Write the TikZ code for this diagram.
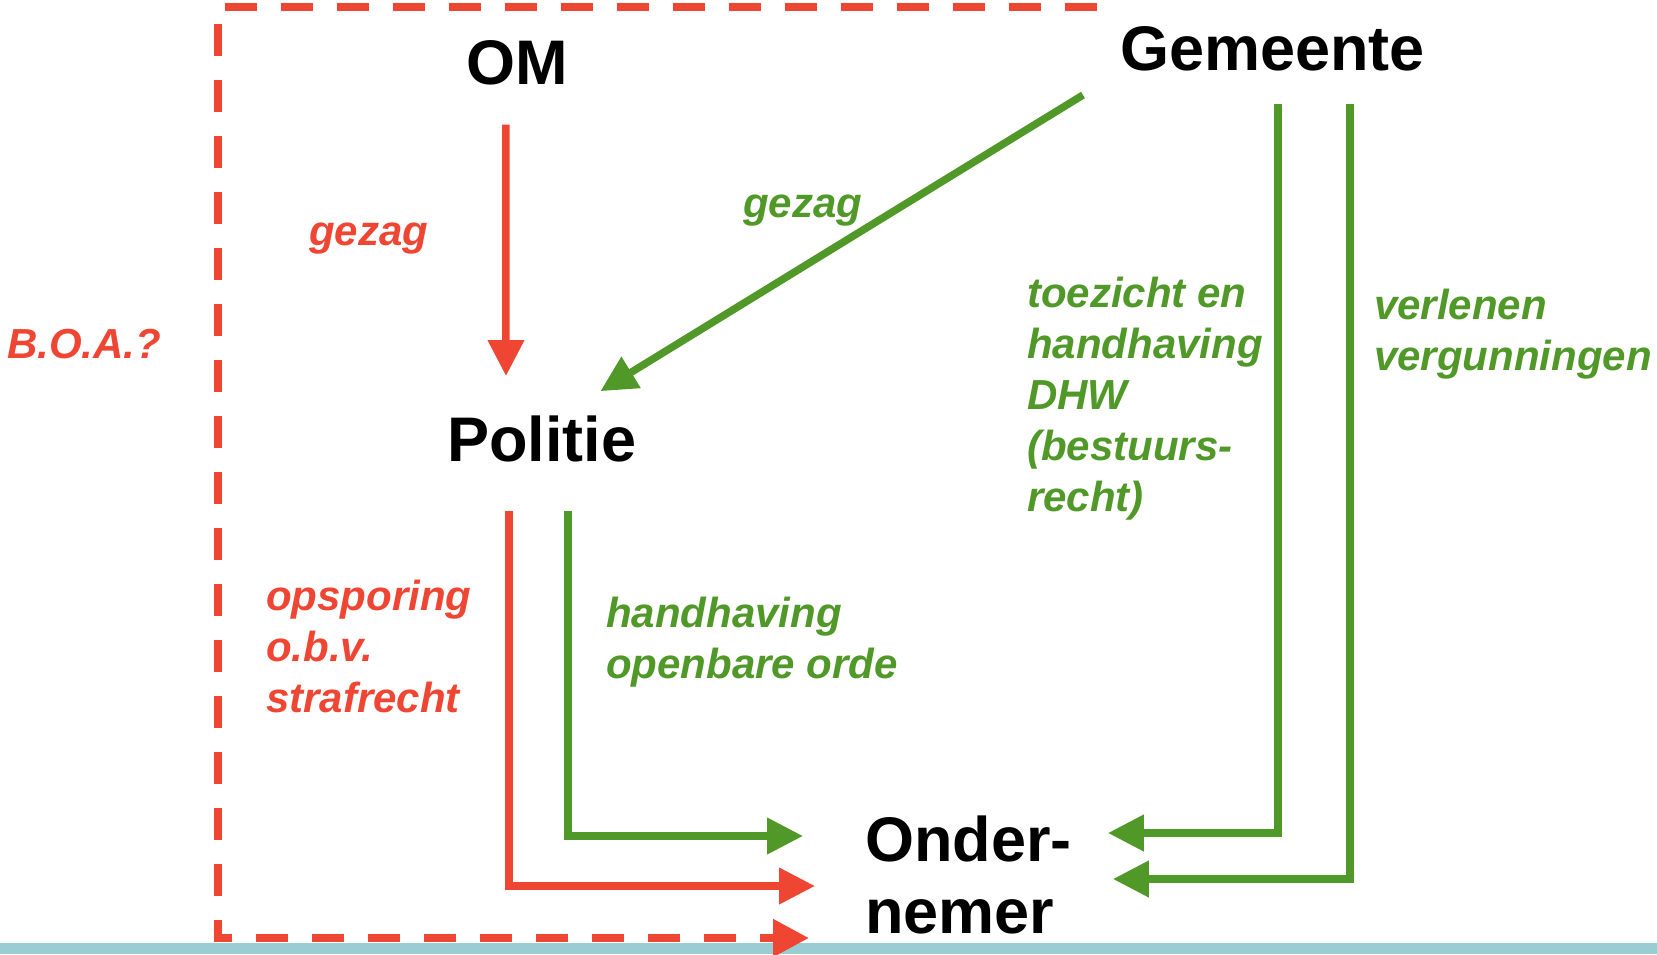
\documentclass[tikz,border=0pt]{standalone}
\usepackage{fontspec}
\setmainfont{Liberation Sans}
\usetikzlibrary{arrows.meta}
\usetikzlibrary{positioning}

\definecolor{omred}{RGB}{239,69,51}
\definecolor{gemgreen}{RGB}{80,152,40}
\definecolor{barblue}{RGB}{154,204,211}

\begin{document}
\begin{tikzpicture}
        [x=1pt, y=-1pt,
         actor/.style={inner sep=0pt, anchor=base west, font=\fontsize{63}{72}\selectfont\bfseries},
         tag/.style={inner sep=0pt, anchor=base west, align=left, font=\fontsize{42}{51}\selectfont\bfseries\itshape},
         redline/.style={omred, line width=7.5pt, -{Triangle[length=36pt, width=35pt]}},
         greenline/.style={gemgreen, line width=7.5pt, -{Triangle[length=36pt, width=35pt]}}]
        \useasboundingbox (0,0) rectangle (1657,954);
        \fill [barblue] (0,943) rectangle (1657,954);

        % actors
        \node [actor] (om) at (466,84.5) {OM};
        \node [actor] (gemeente) at (1120,70) {Gemeente};
        \node [actor] (politie) at (447,461) {Politie};
        \node [actor, align=left] (ondernemer) at (865,933) {Onder-\\nemer};

        % labels (base = last line)
        \node [tag, omred] (gezagom) at (309,245) {gezag};
        \node [tag, gemgreen] (gezaggem) at (743,217) {gezag};
        \node [tag, omred] (boa) at (7,358) {B.O.A.?};
        \node [tag, gemgreen] (toezicht) at (1027,511) {toezicht en\\handhaving\\DHW\\(bestuurs-\\recht)};
        \node [tag, gemgreen] (vergunning) at (1374,370) {verlenen\\vergunningen};
        \node [tag, omred] (opsporing) at (266,712) {opsporing\\o.b.v.\\strafrecht};
        \node [tag, gemgreen] (openbareorde) at (606,678) {handhaving\\openbare orde};

        % B.O.A. box
        \coordinate (boatip) at (809,938);
        \draw [omred, line width=8pt, dash pattern=on 32pt off 24pt, -{Triangle[length=36pt, width=36pt]}]
            (1097,7) -- (218,7) -- (218,938) -- (boatip);

        \draw [redline] ([shift={(-11,40)}]om.base) -- ([shift={(59,-85)}]politie.base west);
        \draw [greenline] ([shift={(-37,25)}]gemeente.base west) -- ([shift={(-36,-24)}]politie.north east);
        \draw [greenline] ([shift={(158,34)}]gemeente.base west) |- ([shift={(36,-100)}]ondernemer.base east);
        \draw [greenline] ([shift={(230,34)}]gemeente.base west) |- ([shift={(41,-54)}]ondernemer.base east);
        \draw [redline] ([shift={(62,50)}]politie.base west) |- ([shift={(-50,-47)}]ondernemer.base west);
        \draw [greenline] ([shift={(121,50)}]politie.base west) |- ([shift={(-62,-97)}]ondernemer.base west);
    \end{tikzpicture}
\end{document}
